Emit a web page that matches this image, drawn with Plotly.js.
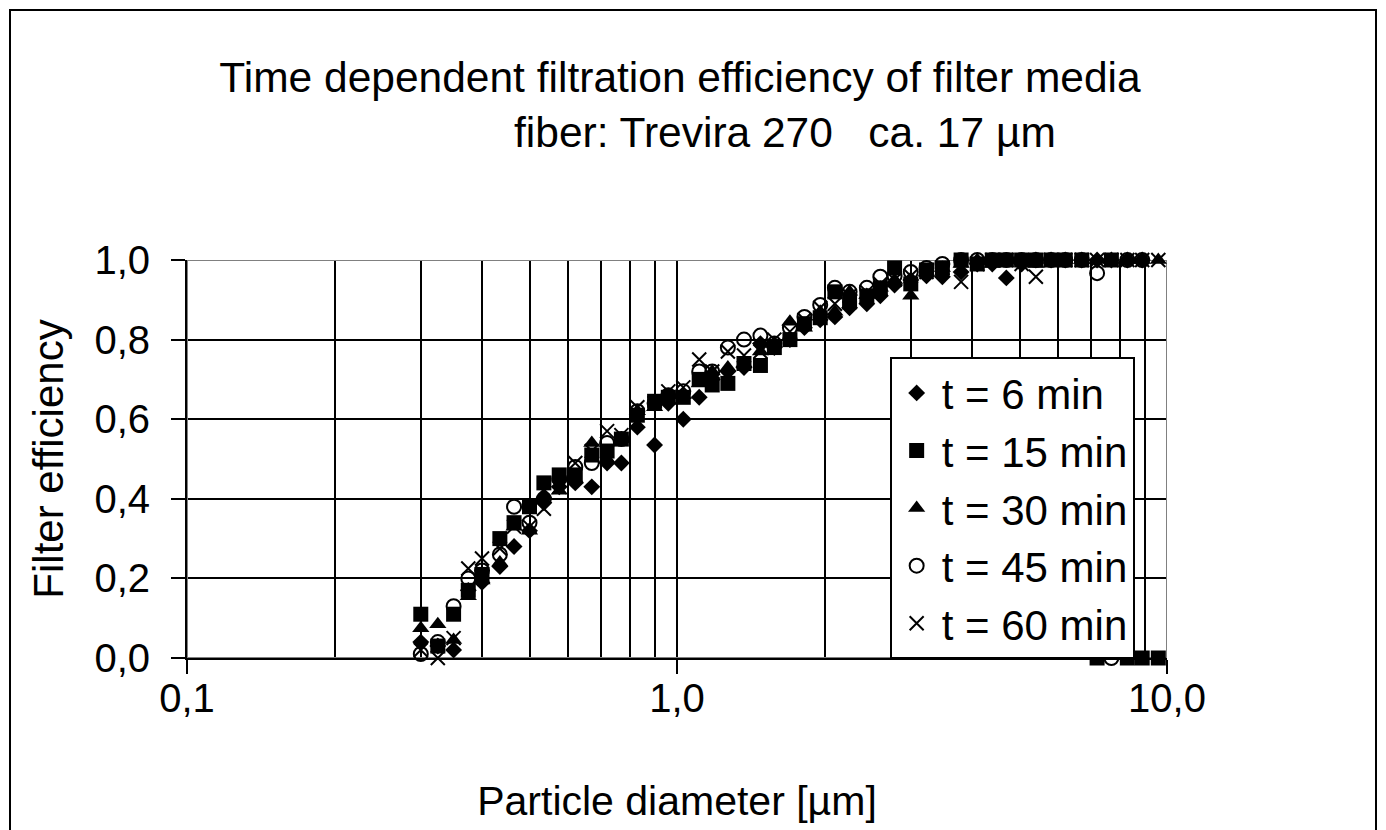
<!DOCTYPE html>
<html>
<head>
<meta charset="utf-8">
<script src="https://cdn.plot.ly/plotly-3.0.1.min.js"></script>
<style>html,body{margin:0;padding:0;background:#fff;}#chart{width:1386px;height:830px;}</style>
</head>
<body>
<div id="chart"></div>
<script>
// Particle size channels [µm]
const diameters = [0.30, 0.325, 0.35, 0.375, 0.40, 0.435, 0.465, 0.50, 0.535, 0.575,
  0.62, 0.67, 0.72, 0.77, 0.83, 0.90, 0.96, 1.03, 1.11, 1.18,
  1.27, 1.37, 1.48, 1.58, 1.70, 1.82, 1.96, 2.1, 2.25, 2.44,
  2.6, 2.78, 3.0, 3.23, 3.48, 3.8, 4.1, 4.4, 4.7, 5.05,
  5.4, 5.8, 6.2, 6.7, 7.2, 7.7, 8.3, 8.9, 9.6];

const eff_t6 = [0.04, 0.03, 0.02, 0.17, 0.19, 0.23, 0.28, 0.32, 0.39, 0.43,
  0.44, 0.43, 0.49, 0.49, 0.58, 0.535, 0.64, 0.60, 0.655, 0.70,
  0.72, 0.73, 0.79, 0.78, 0.80, 0.83, 0.85, 0.857, 0.88, 0.89,
  0.91, 0.937, 0.95, 0.96, 0.958, 0.97, 0.99, 0.99, 0.955, 0.99,
  1.0, 1.0, 1.0, 1.0, 1.0, 1.0, 1.0, 1.0, null];

const eff_t15 = [0.11, 0.03, 0.11, 0.17, 0.21, 0.30, 0.34, 0.38, 0.44, 0.46,
  0.46, 0.51, 0.52, 0.55, 0.61, 0.645, 0.655, 0.655, 0.70, 0.686,
  0.69, 0.74, 0.735, 0.78, 0.80, 0.84, 0.855, 0.92, 0.895, 0.91,
  0.93, 0.98, 0.94, 0.975, 0.98, 1.0, 0.99, 1.0, 1.0, 1.0,
  1.0, 1.0, 1.0, 1.0, 0.0, 1.0, 0.0, 0.0, 0.0];

const eff_t30 = [0.075, 0.085, 0.045, 0.155, 0.195, 0.24, 0.33, 0.32, 0.41, 0.42,
  0.45, 0.54, 0.50, 0.55, 0.62, 0.63, 0.66, 0.66, 0.69, 0.72,
  0.73, 0.74, 0.77, 0.79, 0.845, 0.83, 0.87, 0.87, 0.92, 0.912,
  0.93, 0.95, 0.91, 0.97, 0.98, 0.99, 1.0, 0.99, 1.0, 1.0,
  0.99, 1.0, 1.0, 1.0, 1.0, 1.0, 1.0, 1.0, 1.0];

const eff_t45 = [0.01, 0.04, 0.13, 0.20, 0.22, 0.26, 0.38, 0.34, 0.40, 0.45,
  0.48, 0.49, 0.54, 0.55, 0.62, 0.64, 0.66, 0.67, 0.72, 0.72,
  0.78, 0.80, 0.81, 0.79, 0.83, 0.857, 0.887, 0.93, 0.92, 0.93,
  0.958, 0.96, 0.97, 0.98, 0.99, 1.0, 1.0, 1.0, 1.0, 1.0,
  1.0, 1.0, 1.0, 1.0, 0.967, 0.0, 1.0, 1.0, null];

const eff_t60 = [0.02, 0.0, 0.05, 0.225, 0.25, 0.275, 0.33, 0.33, 0.375, 0.43,
  0.49, 0.52, 0.57, 0.56, 0.63, 0.64, 0.67, 0.68, 0.75, 0.72,
  0.77, 0.76, 0.77, 0.80, 0.82, 0.85, 0.88, 0.89, 0.91, 0.92,
  0.94, 0.95, 0.96, 0.97, 0.98, 0.945, 0.99, 1.0, 1.0, 0.99,
  0.958, 1.0, 1.0, 1.0, 1.0, 1.0, 1.0, 1.0, 1.0];

const seriesNames = ['t = 6 min', 't = 15 min', 't = 30 min', 't = 45 min', 't = 60 min'];
const seriesValues = [eff_t6, eff_t15, eff_t30, eff_t45, eff_t60];

const xTickVals = [0.1, 1, 10];
const xTickText = ['0,1', '1,0', '10,0'];
const xMinorVals = [0.2, 0.3, 0.4, 0.5, 0.6, 0.7, 0.8, 0.9, 2, 3, 4, 5, 6, 7, 8, 9];
const yTickVals = [0, 0.2, 0.4, 0.6, 0.8, 1.0];
const yTickText = ['0,0', '0,2', '0,4', '0,6', '0,8', '1,0'];

const titleLine1 = 'Time dependent filtration efficiency of filter media';
const titleLine2 = 'fiber: Trevira 270\u00a0\u00a0\u00a0ca. 17 µm';

const markerStyles = [
  {symbol: 'diamond', size: 13, color: '#000'},
  {symbol: 'square', size: 15, color: '#000'},
  {symbol: 'triangle-up', size: 15, color: '#000'},
  {symbol: 'circle-open', size: 14, color: '#000', line: {color: '#000', width: 2}},
  {symbol: 'x-thin-open', size: 14, color: '#000', line: {color: '#000', width: 2}}
];

const FONT = 'Liberation Sans, Arial, sans-serif';

const traces = seriesValues.map((vals, i) => ({
  type: 'scatter',
  mode: 'markers',
  name: seriesNames[i],
  legendgroup: 'g' + i,
  x: diameters,
  y: vals,
  marker: markerStyles[i],
  cliponaxis: false
}));

const layout = {
  width: 1386,
  height: 830,
  paper_bgcolor: '#fff',
  plot_bgcolor: '#fff',
  font: {family: FONT, color: '#000', size: 40},
  margin: {l: 187, r: 219, t: 260, b: 172, pad: 0},
  title: {
    text: titleLine1,
    font: {family: FONT, size: 42.5, color: '#000'},
    xref: 'container', yref: 'container',
    x: 680 / 1386, y: 1 - 77 / 830,
    xanchor: 'center', yanchor: 'middle'
  },
  showlegend: true,
  legend: {
    x: 0.717, y: 0.756, xanchor: 'left', yanchor: 'top',
    bgcolor: '#fff', bordercolor: '#000', borderwidth: 2,
    font: {family: FONT, size: 42, color: '#000'},
    tracegroupgap: 0,
    itemwidth: 40
  },
  xaxis: {
    type: 'log',
    range: [-1, 1],
    tickmode: 'array',
    tickvals: xTickVals,
    ticktext: xTickText,
    ticks: 'outside', ticklen: 14, tickwidth: 2, tickcolor: '#000',
    ticklabelstandoff: -10,
    showline: true, linecolor: '#000', linewidth: 2,
    showgrid: true, gridcolor: '#000', gridwidth: 2,
    minor: {tickmode: 'array', tickvals: xMinorVals, showgrid: true, gridcolor: '#000', gridwidth: 2, ticks: ''},
    zeroline: false,
    tickfont: {family: FONT, size: 40, color: '#000'},
    title: {text: 'Particle diameter [µm]', font: {family: FONT, size: 41, color: '#000'}, standoff: 67}
  },
  yaxis: {
    range: [0, 1],
    tickmode: 'array',
    tickvals: yTickVals,
    ticktext: yTickText,
    ticks: 'outside', ticklen: 14, tickwidth: 2, tickcolor: '#000',
    ticklabelstandoff: 13,
    showline: true, linecolor: '#000', linewidth: 2,
    showgrid: true, gridcolor: '#000', gridwidth: 2,
    zeroline: false,
    tickfont: {family: FONT, size: 40, color: '#000'},
    title: {text: 'Filter efficiency', font: {family: FONT, size: 42, color: '#000'}, standoff: 18}
  },
  annotations: [{
    text: titleLine2,
    xref: 'paper', yref: 'paper',
    x: (512 - 187) / 980, y: (658 - 133) / 398,
    xanchor: 'left', yanchor: 'middle',
    showarrow: false,
    font: {family: FONT, size: 42.5, color: '#000'}
  }],
  shapes: [
    {type: 'rect', xref: 'paper', yref: 'paper',
     x0: (10 - 187) / 980, x1: (1376 - 187) / 980, y0: (658 - 850) / 398, y1: (658 - 10) / 398,
     line: {color: '#000', width: 2}, fillcolor: 'rgba(0,0,0,0)', layer: 'below'},
    {type: 'rect', xref: 'x', yref: 'y', x0: 0.1, x1: 10, y0: 0, y1: 1,
     line: {color: '#808080', width: 2}, fillcolor: 'rgba(0,0,0,0)', layer: 'between'}
  ]
};

Plotly.newPlot('chart', traces, layout, {displayModeBar: false, staticPlot: true});
</script>
</body>
</html>
